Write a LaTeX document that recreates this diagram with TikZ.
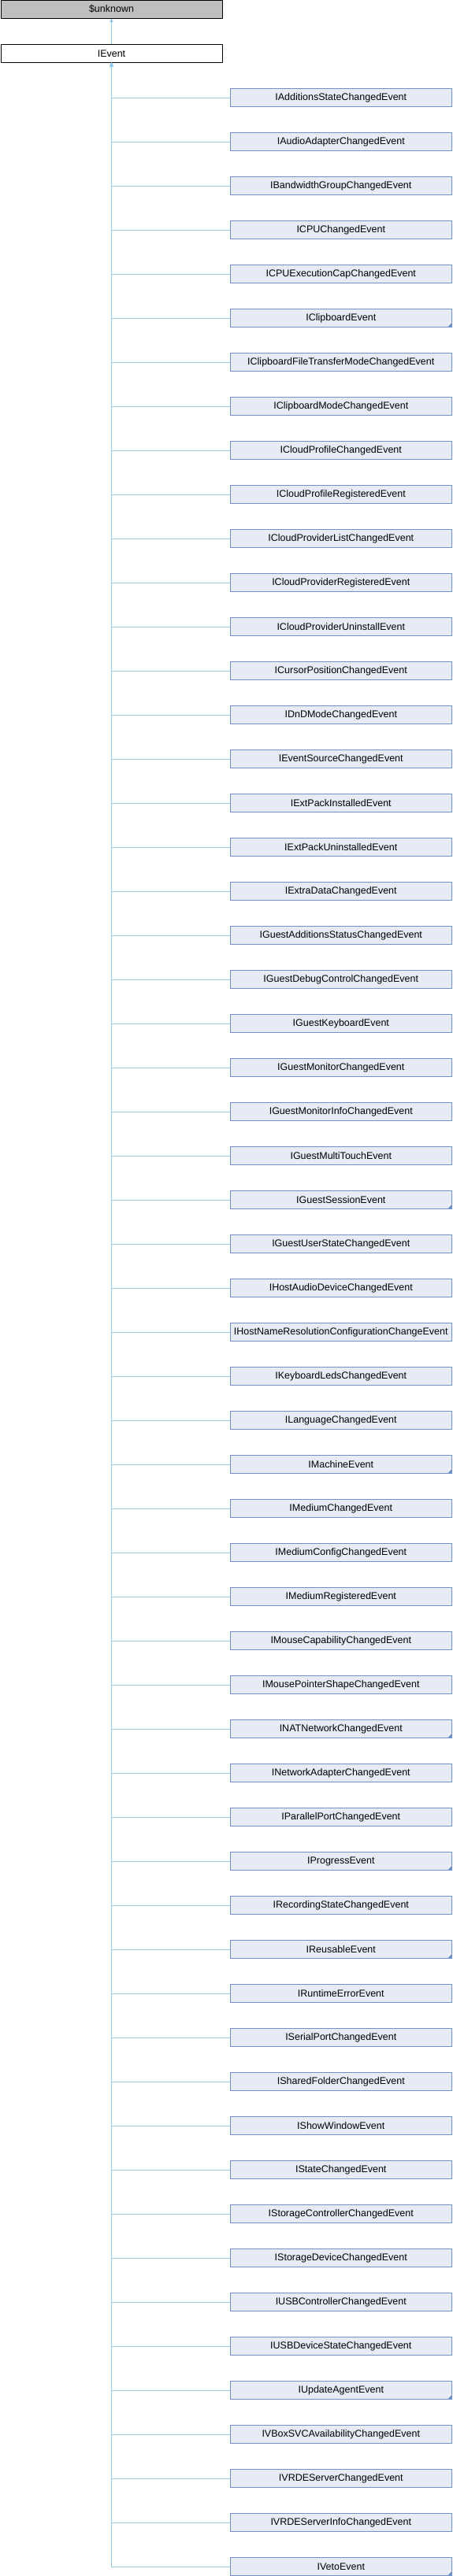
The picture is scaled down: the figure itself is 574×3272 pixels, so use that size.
\documentclass[tikz,border=0pt]{standalone}
\usepackage{fontspec}
\setmainfont{Liberation Sans}
\usetikzlibrary{arrows.meta}
\definecolor{boxfill}{HTML}{E7EBF5}
\definecolor{boxline}{HTML}{7190CA}
\definecolor{edgecol}{HTML}{96CBEA}
\definecolor{grayfill}{HTML}{BFBFBF}
\tikzset{
  base/.style={draw, rectangle, line width=0.9pt, minimum width=281pt, minimum height=22.7pt, inner sep=0pt, font=\fontsize{12.5pt}{14pt}\selectfont},
  parentbox/.style={base, fill=white, draw=black},
  unkbox/.style={base, fill=grayfill, draw=black},
  childbox/.style={base, fill=boxfill, draw=boxline},
  cornermark/.style={path picture={\fill[boxline] (path picture bounding box.south east) -- ++(-5pt,0pt) -- ++(5pt,5pt) -- cycle;}},
  nomark/.style={},
  edge/.style={draw=edgecol, line width=0.9pt, -{Triangle[length=4.5pt,width=4.5pt]}}
}
\begin{document}
\begin{tikzpicture}[x=1pt,y=-1pt]
\useasboundingbox (0,0) rectangle (574,3272);
\node[unkbox] (unk) at (141.5,11.8) {\$unknown};
\node[parentbox] (ievent) at (141.5,68) {IEvent};
\draw[edge] (ievent.north) -- (unk.south);
\foreach \nm/\mk [count=\i] in {
IAdditionsStateChangedEvent/nomark,
IAudioAdapterChangedEvent/nomark,
IBandwidthGroupChangedEvent/nomark,
ICPUChangedEvent/nomark,
ICPUExecutionCapChangedEvent/nomark,
IClipboardEvent/cornermark,
IClipboardFileTransferModeChangedEvent/nomark,
IClipboardModeChangedEvent/nomark,
ICloudProfileChangedEvent/nomark,
ICloudProfileRegisteredEvent/nomark,
ICloudProviderListChangedEvent/nomark,
ICloudProviderRegisteredEvent/nomark,
ICloudProviderUninstallEvent/nomark,
ICursorPositionChangedEvent/nomark,
IDnDModeChangedEvent/nomark,
IEventSourceChangedEvent/nomark,
IExtPackInstalledEvent/nomark,
IExtPackUninstalledEvent/nomark,
IExtraDataChangedEvent/nomark,
IGuestAdditionsStatusChangedEvent/nomark,
IGuestDebugControlChangedEvent/nomark,
IGuestKeyboardEvent/nomark,
IGuestMonitorChangedEvent/nomark,
IGuestMonitorInfoChangedEvent/nomark,
IGuestMultiTouchEvent/nomark,
IGuestSessionEvent/cornermark,
IGuestUserStateChangedEvent/nomark,
IHostAudioDeviceChangedEvent/nomark,
IHostNameResolutionConfigurationChangeEvent/nomark,
IKeyboardLedsChangedEvent/nomark,
ILanguageChangedEvent/nomark,
IMachineEvent/cornermark,
IMediumChangedEvent/nomark,
IMediumConfigChangedEvent/nomark,
IMediumRegisteredEvent/nomark,
IMouseCapabilityChangedEvent/nomark,
IMousePointerShapeChangedEvent/nomark,
INATNetworkChangedEvent/cornermark,
INetworkAdapterChangedEvent/nomark,
IParallelPortChangedEvent/nomark,
IProgressEvent/cornermark,
IRecordingStateChangedEvent/nomark,
IReusableEvent/cornermark,
IRuntimeErrorEvent/nomark,
ISerialPortChangedEvent/nomark,
ISharedFolderChangedEvent/nomark,
IShowWindowEvent/nomark,
IStateChangedEvent/nomark,
IStorageControllerChangedEvent/nomark,
IStorageDeviceChangedEvent/nomark,
IUSBControllerChangedEvent/nomark,
IUSBDeviceStateChangedEvent/nomark,
IUpdateAgentEvent/cornermark,
IVBoxSVCAvailabilityChangedEvent/nomark,
IVRDEServerChangedEvent/nomark,
IVRDEServerInfoChangedEvent/nomark,
IVetoEvent/cornermark}
{
  \node[childbox,\mk] (c\i) at (432.8,{124+56*(\i-1)}) {\nm};
  \draw[edge] (c\i.west) -| (ievent.south);
}
\end{tikzpicture}
\end{document}
